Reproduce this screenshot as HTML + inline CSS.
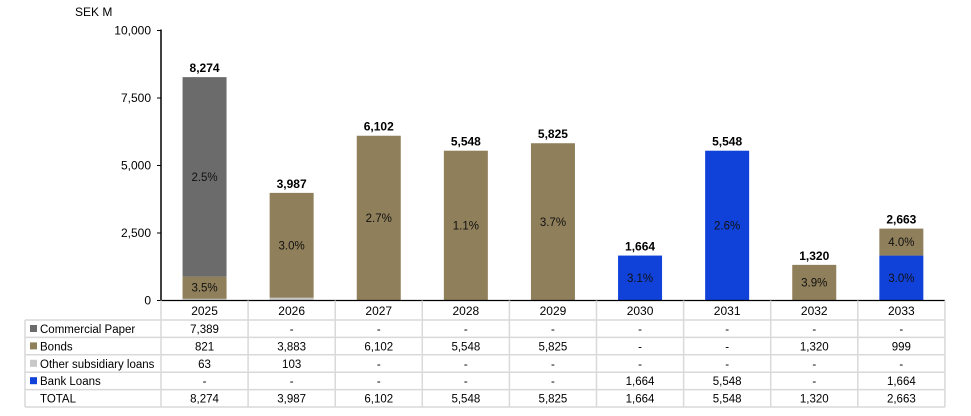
<!DOCTYPE html>
<html><head><meta charset="utf-8"><style>
body{margin:0;background:#fff;font-family:"Liberation Sans",sans-serif;}
svg text{font-family:"Liberation Sans",sans-serif;}
</style></head><body>
<svg id="c" width="971" height="411" xmlns="http://www.w3.org/2000/svg"></svg>
<script>
const years=["2025","2026","2027","2028","2029","2030","2031","2032","2033"];
const commercialPaper=[7389,0,0,0,0,0,0,0,0];
const bonds=[821,3883,6102,5548,5825,0,0,1320,999];
const otherLoans=[63,103,0,0,0,0,0,0,0];
const bankLoans=[0,0,0,0,0,1664,5548,0,1664];
const totals=[8274,3987,6102,5548,5825,1664,5548,1320,2663];
const cpRates=["2.5%","","","","","","","",""];
const bondRates=["3.5%","3.0%","2.7%","1.1%","3.7%","","","3.9%","4.0%"];
const bankRates=["","","","","","3.1%","2.6%","","3.0%"];
const yTicks=[0,2500,5000,7500,10000];

const svg=document.getElementById('c');
const NS='http://www.w3.org/2000/svg';
const X0=161,COLW=87.1,Y0=300.5,YMAX=10000,YTOP=30.5,BW=44;
const y=v=>Y0-(v/YMAX)*(Y0-YTOP);
const xc=i=>X0+COLW*i+COLW/2;
function mk(tag,attrs,name,txt){const e=document.createElementNS(NS,tag);for(const k in attrs)e.setAttribute(k,attrs[k]);


if(txt!==undefined)e.textContent=txt;svg.appendChild(e);return e;}

mk('text',{x:75,y:16,'font-size':12,fill:'#000'},'y-axis-unit','SEK M');
yTicks.forEach(t=>{
  mk('line',{x1:X0-4,x2:X0,y1:y(t),y2:y(t),stroke:'#000'},'y-tick');
  mk('text',{x:X0-10,y:y(t)+4,'font-size':12,'text-anchor':'end'},'y-tick-label',t.toLocaleString('en-US'));
});
const colors={other:'#c8c8c8',bank:'#1041d9',bonds:'#8f7f5a',cp:'#6b6b6b'};
years.forEach((yr,i)=>{
  let base=0;const bx=xc(i)-BW/2;
  const segs=[['other',otherLoans[i],''],['bank',bankLoans[i],bankRates[i]],['bonds',bonds[i],bondRates[i]],['cp',commercialPaper[i],cpRates[i]]];
  segs.forEach(([k,v,r])=>{
    if(v>0){
      mk('rect',{x:bx,y:y(base+v),width:BW,height:y(base)-y(base+v),fill:colors[k]},'bar-'+k+'-'+yr);
      if(r) mk('text',{x:xc(i),y:(y(base)+y(base+v))/2+4,'font-size':11.5,'text-anchor':'middle',fill:'#111'},'rate-label',r);
    }
    base+=v;
  });
  mk('text',{x:xc(i),y:y(totals[i])-5,'font-size':12,'font-weight':'bold','text-anchor':'middle'},'total-label-'+yr,totals[i].toLocaleString('en-US'));
});
// table
const rowsY=[320,337.4,354.8,372.2,389.6,407];
const gc='#d9d9d9';
mk('line',{x1:X0,x2:X0,y1:YTOP-1,y2:Y0,stroke:'#000','stroke-width':1.5},'y-axis-line');
mk('line',{x1:X0,x2:945,y1:Y0,y2:Y0,stroke:'#000','stroke-width':1.2},'x-axis-line');
for(let i=0;i<=9;i++){mk('line',{x1:X0+COLW*i,x2:X0+COLW*i,y1:Y0,y2:407,stroke:gc,'stroke-width':1.5},'table-col-line');}
rowsY.forEach(ry=>mk('line',{x1:25,x2:945,y1:ry,y2:ry,stroke:gc,'stroke-width':1.5},'table-row-line'));
mk('line',{x1:25,x2:25,y1:320,y2:407,stroke:gc,'stroke-width':1.5},'table-left-line');
years.forEach((yr,i)=>mk('text',{x:xc(i),y:315,'font-size':12,'text-anchor':'middle'},'x-label-'+yr,yr));
const rows=[['Commercial Paper',commercialPaper,colors.cp],['Bonds',bonds,colors.bonds],['Other subsidiary loans',otherLoans,colors.other],['Bank Loans',bankLoans,colors.bank],['TOTAL',totals,null]];
rows.forEach(([lab,arr,col],r)=>{
  const cy=rowsY[r]+13;
  if(col) mk('rect',{x:30,y:cy-8,width:7,height:7,fill:col},'legend-swatch');
  mk('text',{x:40,y:cy,'font-size':11.5},'row-label',lab);
  arr.forEach((v,i)=>mk('text',{x:xc(i),y:cy,'font-size':11.5,'text-anchor':'middle'},'table-cell',v?v.toLocaleString('en-US'):'-'));
});
</script>
</body></html>
